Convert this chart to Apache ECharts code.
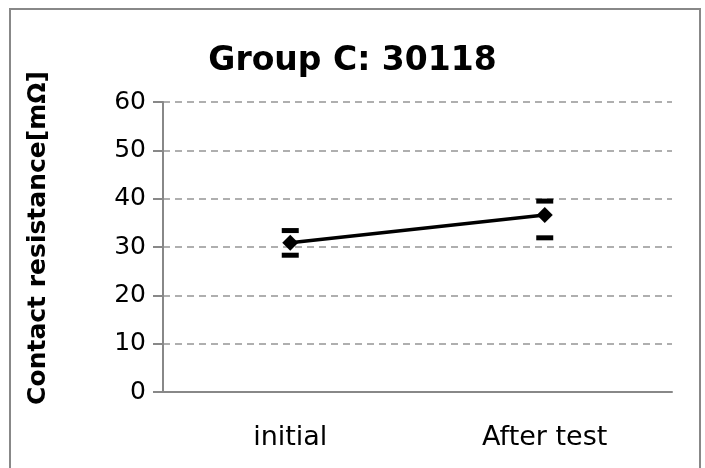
<!DOCTYPE html>
<html>
<head>
<meta charset="utf-8">
<script src="https://cdn.jsdelivr.net/npm/echarts@6/dist/echarts.min.js"></script>
<style>html,body{margin:0;padding:0;background:#fff;}#c{width:705px;height:468px;}</style>
</head>
<body>
<div id="c"></div>
<script>
var titleText = 'Group C: 30118';
var yAxisTitle = 'Contact resistance[mΩ]';
var categories = ['initial', 'After test'];
var meanValues = [30.9, 36.6];
var maxValues = [33.4, 39.5];
var minValues = [28.3, 31.9];

var FONT = '"DejaVu Sans", Verdana, sans-serif';
var chart = echarts.init(document.getElementById('c'), null, {renderer: 'canvas'});
chart.setOption({
  animation: false,
  backgroundColor: '#fff',
  title: {
    text: titleText,
    left: 'center',
    top: 40,
    textStyle: {fontFamily: FONT, fontSize: 33, fontWeight: 'bold', color: '#000'}
  },
  graphic: [{
    type: 'rect',
    shape: {x: 10, y: 9, width: 690, height: 480},
    style: {fill: 'none', stroke: '#888', lineWidth: 2},
    silent: true
  }, {
    type: 'text',
    x: 38, y: 238,
    rotation: Math.PI / 2,
    style: {text: yAxisTitle, align: 'center', verticalAlign: 'middle',
            font: 'bold 25px "DejaVu Sans", Verdana, sans-serif', fill: '#000'},
    silent: true
  }],
  grid: {left: 163, right: 33, top: 102, bottom: 76},
  xAxis: {
    type: 'category',
    data: categories,
    boundaryGap: true,
    axisLine: {show: true, lineStyle: {color: '#888', width: 2}},
    axisTick: {show: false},
    axisLabel: {fontFamily: FONT, fontSize: 27, color: '#000', margin: 32},
    splitLine: {show: false}
  },
  yAxis: {
    type: 'value',
    min: 0, max: 60, interval: 10,
    axisLine: {show: true, lineStyle: {color: '#888', width: 2}},
    axisTick: {show: true, inside: false, length: 10, lineStyle: {color: '#888', width: 2}},
    axisLabel: {fontFamily: FONT, fontSize: 25, color: '#000', margin: 17},
    splitLine: {show: true, lineStyle: {color: '#959595', width: 1.5, type: [7, 5]}}
  },
  series: [
    {
      type: 'line',
      data: meanValues,
      symbol: 'diamond',
      symbolSize: 16,
      itemStyle: {color: '#000', opacity: 1},
      lineStyle: {color: '#000', width: 3.5},
      z: 5
    },
    {
      type: 'scatter',
      data: maxValues,
      symbol: 'rect',
      symbolSize: [17, 5],
      itemStyle: {color: '#000', opacity: 1},
      z: 4
    },
    {
      type: 'scatter',
      data: minValues,
      symbol: 'rect',
      symbolSize: [17, 5],
      itemStyle: {color: '#000', opacity: 1},
      z: 4
    }
  ]
});
</script>
</body>
</html>
